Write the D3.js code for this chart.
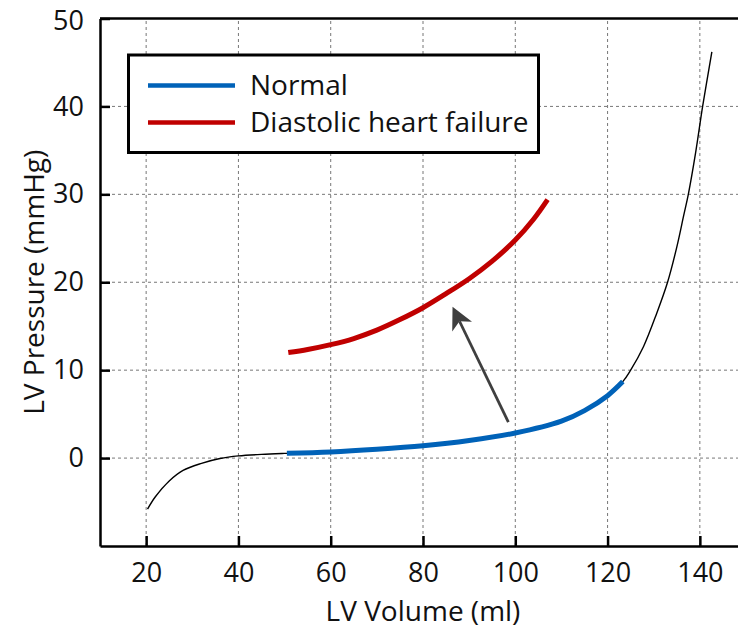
<!DOCTYPE html>
<html lang="en">
<head>
    <meta charset="UTF-8">
    <title>LV pressure-volume relation</title>
    <script src="https://d3js.org/d3.v7.min.js"></script>
    <style>
        body { margin: 0; background: #fff; }
        svg { display: block; font-family: "Open Sans", sans-serif; }
    </style>
</head>
<body>
    <div id="chart"></div>
    <script>
        // Ticks
        const xTicks = [20, 40, 60, 80, 100, 120, 140];
        const yTicks = [0, 10, 20, 30, 40, 50];

        // Full normal curve (thin black), [volume, pressure]
        const passiveCurve = [
            [20.3, -5.8], [22, -4.4], [25, -2.6], [28, -1.4], [32, -0.6], [36, -0.05],
            [40, 0.25], [45, 0.42], [50, 0.53], [60, 0.7], [70, 1.0], [80, 1.4],
            [90, 2.0], [100, 2.85], [110, 4.2], [115, 5.4], [120, 7.1], [123.3, 8.7],
            [125, 10], [127.8, 12.7], [130.6, 16.4], [133.0, 20], [135.0, 24],
            [136.5, 27.6], [137.5, 30], [139.1, 34.8], [140.6, 40], [142.6, 46.2]
        ];

        // Normal (blue)
        const normalVolume = [50.5, 60, 70, 80, 90, 100, 110, 115, 120, 123.3];
        const normalPressure = [0.55, 0.7, 1.0, 1.4, 2.0, 2.85, 4.2, 5.4, 7.1, 8.7];

        // Diastolic heart failure (red)
        const dhfVolume = [50.8, 55, 60, 65, 70, 75, 80, 85, 90, 95, 100, 104, 107];
        const dhfPressure = [12.0, 12.35, 12.9, 13.6, 14.55, 15.75, 17.1, 18.7, 20.4, 22.4, 24.8, 27.2, 29.4];

        // Arrow annotation: tail and tip, [volume, pressure]
        const arrowTail = [98.5, 4.1];
        const arrowTip = [86.4, 17.2];

        const width = 738, height = 632;
        const margin = { left: 100, top: 18.5 };
        const plotW = 646, plotH = 527.5;
        const fontSize = 27;

        const svg = d3.select("#chart").append("svg")
            .attr("width", width)
            .attr("height", height);

        const x = d3.scaleLinear().domain([10, 150]).range([margin.left, margin.left + plotW]);
        const y = d3.scaleLinear().domain([-10, 50]).range([margin.top + plotH, margin.top]);

        // Grid
        const grid = svg.append("g")
            .attr("stroke", "#777")
            .attr("stroke-width", 1)
            .attr("stroke-dasharray", "3,3");
        grid.selectAll(".gx").data(xTicks).enter().append("line")
            .attr("x1", d => x(d)).attr("x2", d => x(d))
            .attr("y1", y(-10)).attr("y2", y(50));
        grid.selectAll(".gy").data(yTicks.filter(d => d < 50)).enter().append("line")
            .attr("x1", x(10)).attr("x2", x(150))
            .attr("y1", d => y(d)).attr("y2", d => y(d));

        // Axes (ticks pointing inwards)
        svg.append("g")
            .attr("transform", `translate(0,${y(-10)})`)
            .call(d3.axisBottom(x).tickValues(xTicks).tickSizeInner(-10).tickSizeOuter(0).tickPadding(17))
            .call(g => g.select(".domain").attr("stroke-width", 2.5))
            .call(g => g.selectAll(".tick line").attr("stroke-width", 2.5))
            .call(g => g.selectAll("text").attr("font-size", fontSize).attr("font-family", "Open Sans").attr("fill", "#111"));

        svg.append("g")
            .attr("transform", `translate(${x(10)},0)`)
            .call(d3.axisLeft(y).tickValues(yTicks).tickSizeInner(-10).tickSizeOuter(0).tickPadding(16))
            .call(g => g.select(".domain").attr("stroke-width", 2.5))
            .call(g => g.selectAll(".tick line").attr("stroke-width", 2.5))
            .call(g => g.selectAll("text").attr("font-size", fontSize).attr("font-family", "Open Sans").attr("fill", "#111"))
            .call(g => g.selectAll(".tick").filter(d => d === 50).select("text").attr("dy", "0.4em"));

        // top border
        svg.append("line")
            .attr("x1", x(10)).attr("x2", x(150))
            .attr("y1", y(50)).attr("y2", y(50))
            .attr("stroke", "#000").attr("stroke-width", 2.5);

        // Axis titles
        svg.append("text")
            .attr("x", x(80)).attr("y", 621)
            .attr("text-anchor", "middle")
            .attr("font-size", 28)
            .attr("fill", "#111")
            .text("LV Volume (ml)");

        svg.append("text")
            .attr("transform", `translate(44,${(y(-10) + y(50)) / 2}) rotate(-90)`)
            .attr("text-anchor", "middle")
            .attr("font-size", 28)
            .attr("fill", "#111")
            .text("LV Pressure (mmHg)");

        const line = d3.line()
            .x(d => x(d[0]))
            .y(d => y(d[1]))
            .curve(d3.curveCatmullRom.alpha(0.5));

        svg.append("path")
            .datum(passiveCurve)
            .attr("fill", "none")
            .attr("stroke", "#000")
            .attr("stroke-width", 1.4)
            .attr("d", line);

        svg.append("path")
            .datum(normalVolume.map((v, i) => [v, normalPressure[i]]))
            .attr("fill", "none")
            .attr("stroke", "#0062b8")
            .attr("stroke-width", 5)
            .attr("d", line);

        svg.append("path")
            .datum(dhfVolume.map((v, i) => [v, dhfPressure[i]]))
            .attr("fill", "none")
            .attr("stroke", "#c00000")
            .attr("stroke-width", 5)
            .attr("d", line);

        // Arrow
        const tx = x(arrowTail[0]), ty = y(arrowTail[1]);
        const hx = x(arrowTip[0]), hy = y(arrowTip[1]);
        const ang = Math.atan2(hy - ty, hx - tx);
        const headLen = 22, headHalf = 11, notch = 6;
        const bx = hx - headLen * Math.cos(ang), by = hy - headLen * Math.sin(ang);
        const px = -Math.sin(ang), py = Math.cos(ang);
        svg.append("line")
            .attr("x1", tx).attr("y1", ty)
            .attr("x2", bx + notch * Math.cos(ang)).attr("y2", by + notch * Math.sin(ang))
            .attr("stroke", "#3f3f3f").attr("stroke-width", 2.8);
        svg.append("path")
            .attr("fill", "#3f3f3f")
            .attr("d", d3.line()([
                [hx, hy],
                [bx + headHalf * px, by + headHalf * py],
                [bx + notch * Math.cos(ang), by + notch * Math.sin(ang)],
                [bx - headHalf * px, by - headHalf * py]
            ]) + "Z");

        // Legend
        const legend = svg.append("g");
        legend.append("rect")
            .attr("x", 128.5).attr("y", 55)
            .attr("width", 410).attr("height", 97.5)
            .attr("fill", "#fff")
            .attr("stroke", "#000")
            .attr("stroke-width", 3);
        const legendItems = [
            { name: "Normal", color: "#0062b8" },
            { name: "Diastolic heart failure", color: "#c00000" }
        ];
        legendItems.forEach((d, i) => {
            const ly = 85.5 + i * 37;
            legend.append("line")
                .attr("x1", 148).attr("x2", 235)
                .attr("y1", ly).attr("y2", ly)
                .attr("stroke", d.color).attr("stroke-width", 4.5);
            legend.append("text")
                .attr("x", 250).attr("y", ly + 9.5)
                .attr("font-size", 28)
                .attr("fill", "#111")
                .text(d.name);
        });
    </script>
</body>
</html>
